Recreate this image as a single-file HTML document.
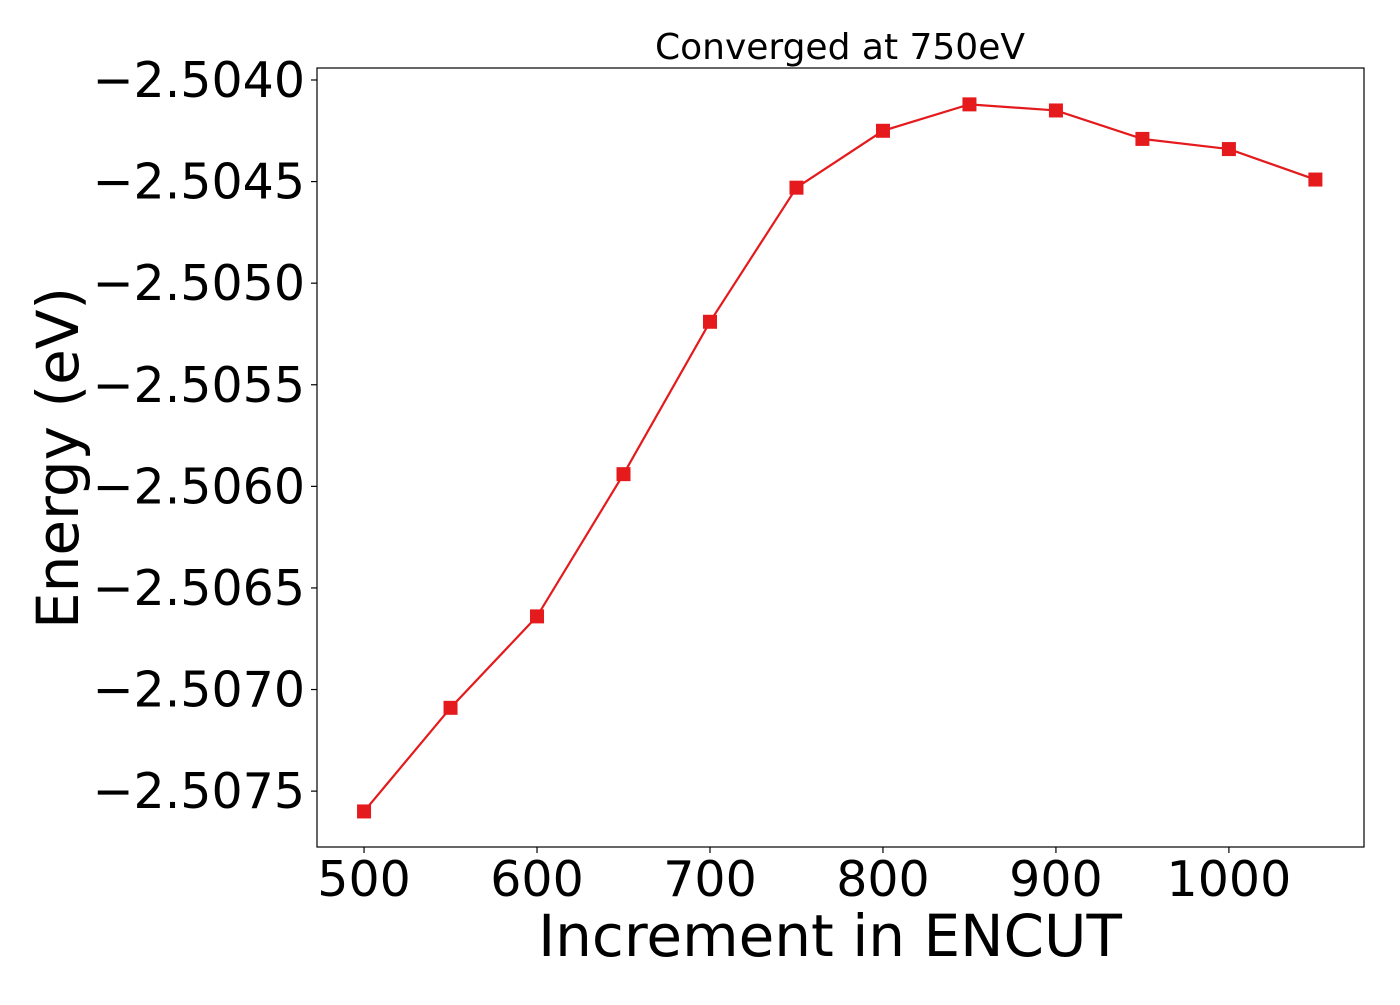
<!DOCTYPE html>
<html><head><meta charset="utf-8"><style>
body{margin:0;background:#fff;}
svg text{font-family:"DejaVu Sans","Liberation Sans",sans-serif;fill:#000;}
</style></head><body>
<svg id="chart" width="1400" height="1000" xmlns="http://www.w3.org/2000/svg">
<rect width="1400" height="1000" fill="#fff"/>
<g id="plot"></g>
</svg>
<script>
const xValues=[500,550,600,650,700,750,800,850,900,950,1000,1050];
const energyValues=[-2.50760,-2.50709,-2.50664,-2.50594,-2.50519,-2.50453,-2.50425,-2.50412,-2.50415,-2.50429,-2.50434,-2.50449];
const xTicks=[500,600,700,800,900,1000];
const yTicks=[-2.5040,-2.5045,-2.5050,-2.5055,-2.5060,-2.5065,-2.5070,-2.5075];
const L=317,R=1364,T=68,B=847;
const xMin=472.8,xMax=1078.1,yMin=-2.507775,yMax=-2.503941;
const sx=v=>L+(v-xMin)/(xMax-xMin)*(R-L);
const sy=v=>B-(v-yMin)/(yMax-yMin)*(B-T);
const NS='http://www.w3.org/2000/svg';
const g=document.getElementById('plot');
function mk(t,a,txt){const e=document.createElementNS(NS,t);for(const k in a)e.setAttribute(k,a[k]);if(txt!==undefined)e.textContent=txt;g.appendChild(e);return e;}
let e;
e=mk('rect',{x:L,y:T,width:R-L,height:B-T,fill:'none',stroke:'#000','stroke-width':1.2});


xTicks.forEach(v=>{
 e=mk('line',{x1:sx(v),x2:sx(v),y1:B,y2:B+6,stroke:'#000','stroke-width':1.2});
 
 
 e=mk('text',{x:sx(v),y:896,'font-size':49,'text-anchor':'middle'},String(v));
 
 
});
yTicks.forEach(v=>{
 e=mk('line',{x1:L-6,x2:L,y1:sy(v),y2:sy(v),stroke:'#000','stroke-width':1.2});
 
 
 e=mk('text',{x:305,y:sy(v)+17,'font-size':49,'text-anchor':'end'},'\u2212'+Math.abs(v).toFixed(4));
 
 
});
e=mk('polyline',{points:xValues.map((x,i)=>sx(x)+','+sy(energyValues[i])).join(' '),fill:'none',stroke:'#e41a1c','stroke-width':2.2});


xValues.forEach((x,i)=>{
 e=mk('rect',{x:sx(x)-7,y:sy(energyValues[i])-7,width:14,height:14,fill:'#e41a1c'});
 
 
});
e=mk('text',{x:840,y:59,'font-size':36,'text-anchor':'middle'},'Converged at 750eV');


e=mk('text',{x:830,y:956,'font-size':58,'text-anchor':'middle'},'Increment in ENCUT');


e=mk('text',{x:0,y:0,'font-size':58,'text-anchor':'middle',transform:'translate(78,458) rotate(-90)'},'Energy (eV)');


</script>
</body></html>
